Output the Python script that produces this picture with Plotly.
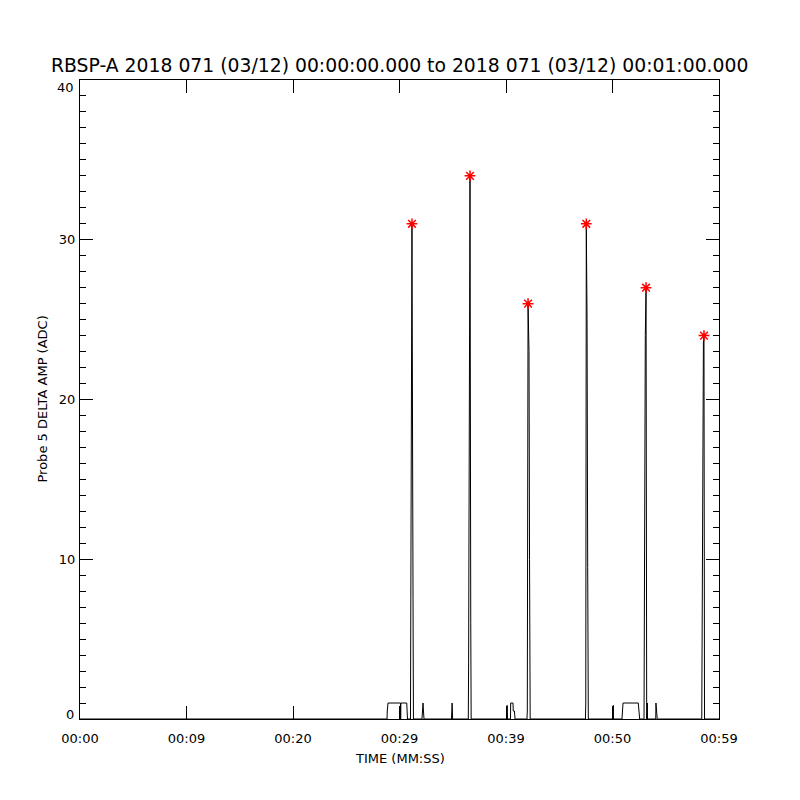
import plotly.graph_objects as go

# Time series (seconds after 00:00:00) and probe 5 delta amplitude (ADC)
time_s = [0.00, 28.83, 28.85, 28.92, 30.09, 30.11, 30.13, 30.68, 30.70, 30.75,
          31.03, 31.08, 31.17, 31.27, 31.31,
          32.11, 32.14, 32.21, 32.25, 32.30,
          34.88, 34.90, 34.94, 34.99,
          36.46, 36.49, 36.55, 36.62, 36.69, 36.73,
          40.09, 40.11, 40.14, 40.42, 40.44, 40.66, 40.68, 40.79, 40.85,
          41.97, 42.00, 42.07, 42.16, 42.21, 42.27,
          47.46, 47.49, 47.54, 47.61, 47.67, 47.73,
          50.06, 50.08, 50.09,
          50.89, 50.92, 50.99, 52.42, 52.49, 52.55,
          52.96, 53.00, 53.08, 53.15, 53.21, 53.27, 53.29,
          54.06, 54.08, 54.12, 54.20,
          58.38, 58.43, 58.54, 58.59, 58.64,
          60.00]
amp_adc = [0, 0, 0.5, 1, 1, 0, 1, 1, 0.5, 0,
           0, 18, 31, 7.5, 0,
           0, 1, 1, 0.5, 0,
           0, 0.5, 1, 0,
           0, 3.5, 20.5, 34, 6, 0,
           0, 0.85, 0, 0, 1, 1, 0.5, 0.5, 0,
           0, 0.5, 26, 23, 10, 0,
           0, 1, 31, 25, 9.5, 0,
           0, 0.85, 0,
           0, 0.5, 1, 1, 0.5, 0,
           0, 10.5, 24, 27, 0, 1, 0,
           0, 1, 0.5, 0,
           0, 12, 24, 24, 0,
           0]

# Peaks marked with asterisks
peak_time_s = [31.17, 36.62, 42.07, 47.54, 53.15, 58.59]
peak_adc = [31, 34, 26, 31, 27, 24]

x_tickvals = [0, 10, 20, 30, 40, 50, 60]
x_ticktext = ["00:00", "00:09", "00:20", "00:29", "00:39", "00:50", "00:59"]
y_tickvals = [0, 10, 20, 30, 40]
y_ticktext = ["0", "10", "20", "30", "40"]

title_text = "RBSP-A 2018 071 (03/12) 00:00:00.000 to 2018 071 (03/12) 00:01:00.000"

FONT = "DejaVu Sans"
PLOT_PX = 639.0

fig = go.Figure()
fig.add_trace(go.Scatter(x=time_s, y=amp_adc, mode="lines",
                         line=dict(color="black", width=1), showlegend=False,
                         hoverinfo="skip"))
fig.add_trace(go.Scatter(x=peak_time_s, y=peak_adc, mode="markers",
                         marker=dict(symbol="asterisk-open", size=9,
                                     line=dict(color="#ff0000", width=1.5),
                                     color="#ff0000"),
                         showlegend=False))

# y tick labels: middle ones via axis, end ones kept inside the axis span (as in IDL)
inner_text = [t if v not in (y_tickvals[0], y_tickvals[-1]) else ""
              for v, t in zip(y_tickvals, y_ticktext)]
end_labels = [
    dict(text=y_ticktext[0], x=0, y=y_tickvals[0], xref="paper", yref="y",
         xanchor="right", yanchor="bottom", xshift=-4, yshift=-5,
         showarrow=False, font=dict(size=13, family=FONT)),
    dict(text=y_ticktext[-1], x=0, y=y_tickvals[-1], xref="paper", yref="y",
         xanchor="right", yanchor="top", xshift=-4, yshift=2,
         showarrow=False, font=dict(size=13, family=FONT)),
]

fig.update_layout(
    width=800, height=800,
    paper_bgcolor="white", plot_bgcolor="white",
    margin=dict(l=72, r=89, t=72, b=89, autoexpand=False),
    font=dict(family=FONT, color="black", size=13),
    annotations=[
        dict(text=title_text, x=0.5, y=1 + 15 / PLOT_PX, xref="paper", yref="paper",
             xanchor="center", yanchor="middle",
             showarrow=False, font=dict(size=18.8, family=FONT)),
        dict(text="TIME (MM:SS)", x=0.5, y=-39 / PLOT_PX, xref="paper", yref="paper",
             xanchor="center", yanchor="middle",
             showarrow=False, font=dict(size=13, family=FONT)),
        dict(text="Probe 5 DELTA AMP (ADC)", x=-38 / PLOT_PX, y=0.5, xref="paper",
             yref="paper", xanchor="center", yanchor="middle",
             showarrow=False, textangle=-90,
             font=dict(size=13, family=FONT)),
    ] + end_labels,
)

fig.update_xaxes(range=[0, 60], tickvals=x_tickvals, ticktext=x_ticktext,
                 ticks="inside", ticklen=13, tickwidth=1, tickcolor="black",
                 showline=True, linecolor="black", linewidth=1, mirror="allticks",
                 showgrid=False, zeroline=False, ticklabelstandoff=7,
                 automargin=False,
                 tickfont=dict(size=13, family=FONT))
fig.update_yaxes(range=[0, 40], tickvals=y_tickvals, ticktext=inner_text,
                 ticks="inside", ticklen=13, tickwidth=1, tickcolor="black",
                 showline=True, linecolor="black", linewidth=1, mirror="allticks",
                 showgrid=False, zeroline=False, ticklabelstandoff=1,
                 automargin=False,
                 minor=dict(dtick=1, ticks="inside", ticklen=6, tickcolor="black",
                            showgrid=False),
                 tickfont=dict(size=13, family=FONT))

fig.write_html("out.html")
